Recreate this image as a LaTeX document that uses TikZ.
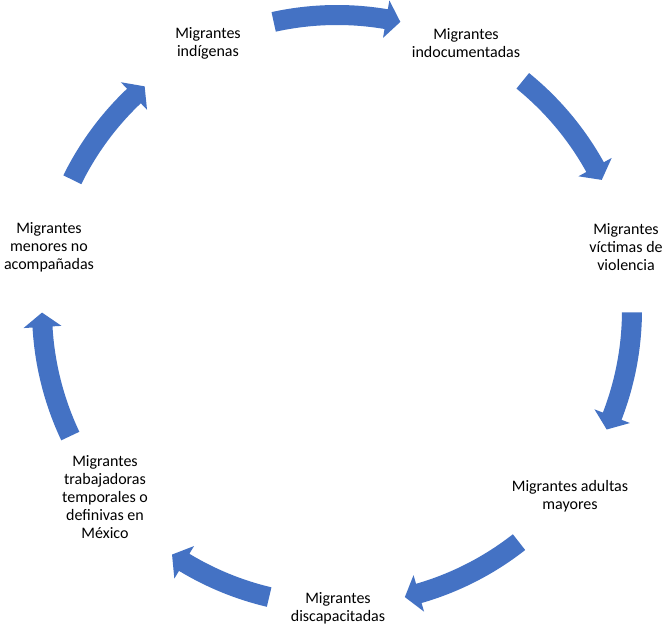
\documentclass[tikz,border=0pt]{standalone}
\usepackage{fontspec}
\setmainfont{Carlito}
\definecolor{cycleblue}{HTML}{4472C4}
\tikzset{
  label text/.style={align=center, font=\fontsize{16}{18}\selectfont, inner sep=0pt},
  cycle arrow/.style={fill=cycleblue, draw=none}
}
% curved block arrow running clockwise from angle #1 (tail) to angle #2 (tip)
\newcommand{\cyclearrow}[2]{%
  \pgfmathsetmacro{\sa}{#1}%
  \pgfmathsetmacro{\ea}{#2}%
  \pgfmathsetmacro{\ha}{#2+2.8}%
  \fill[cycle arrow, shift={(337pt,319pt)}]
    (\sa:285pt) arc[start angle=\sa, end angle=\ha, radius=285pt]
    -- (\ha:276pt) -- (\ea:295pt) -- (\ha:314pt) -- (\ha:305pt)
    arc[start angle=\ha, end angle=\sa, radius=305pt] -- cycle;%
}
\begin{document}
\begin{tikzpicture}[x=1pt,y=1pt]
\useasboundingbox (0,0) rectangle (665,629);
\fill[white] (0,0) rectangle (665,629);

\foreach \s/\e in {102.4/77.6, 50.97/26.17, -0.46/-23.9, -51.9/-76.7,
                   -103.3/-124.0, -154.7/-179.5, 153.8/130.7}
  {\cyclearrow{\s}{\e}}

\node[label text] (indig)  at (208,586) {Migrantes\\indígenas};
\node[label text] (indoc)  at (466,586) {Migrantes\\indocumentadas};
\node[label text] (vict)   at (626,382) {Migrantes\\víctimas de\\violencia};
\node[label text] (adult)  at (570,133) {Migrantes adultas\\mayores};
\node[label text] (disc)   at (338,21)  {Migrantes\\discapacitadas};
\node[label text] (trab)   at (105,132) {Migrantes\\trabajadoras\\temporales o\\definivas en\\México};
\node[label text] (menor)  at (49,382)  {Migrantes\\menores no\\acompañadas};
\end{tikzpicture}
\end{document}
